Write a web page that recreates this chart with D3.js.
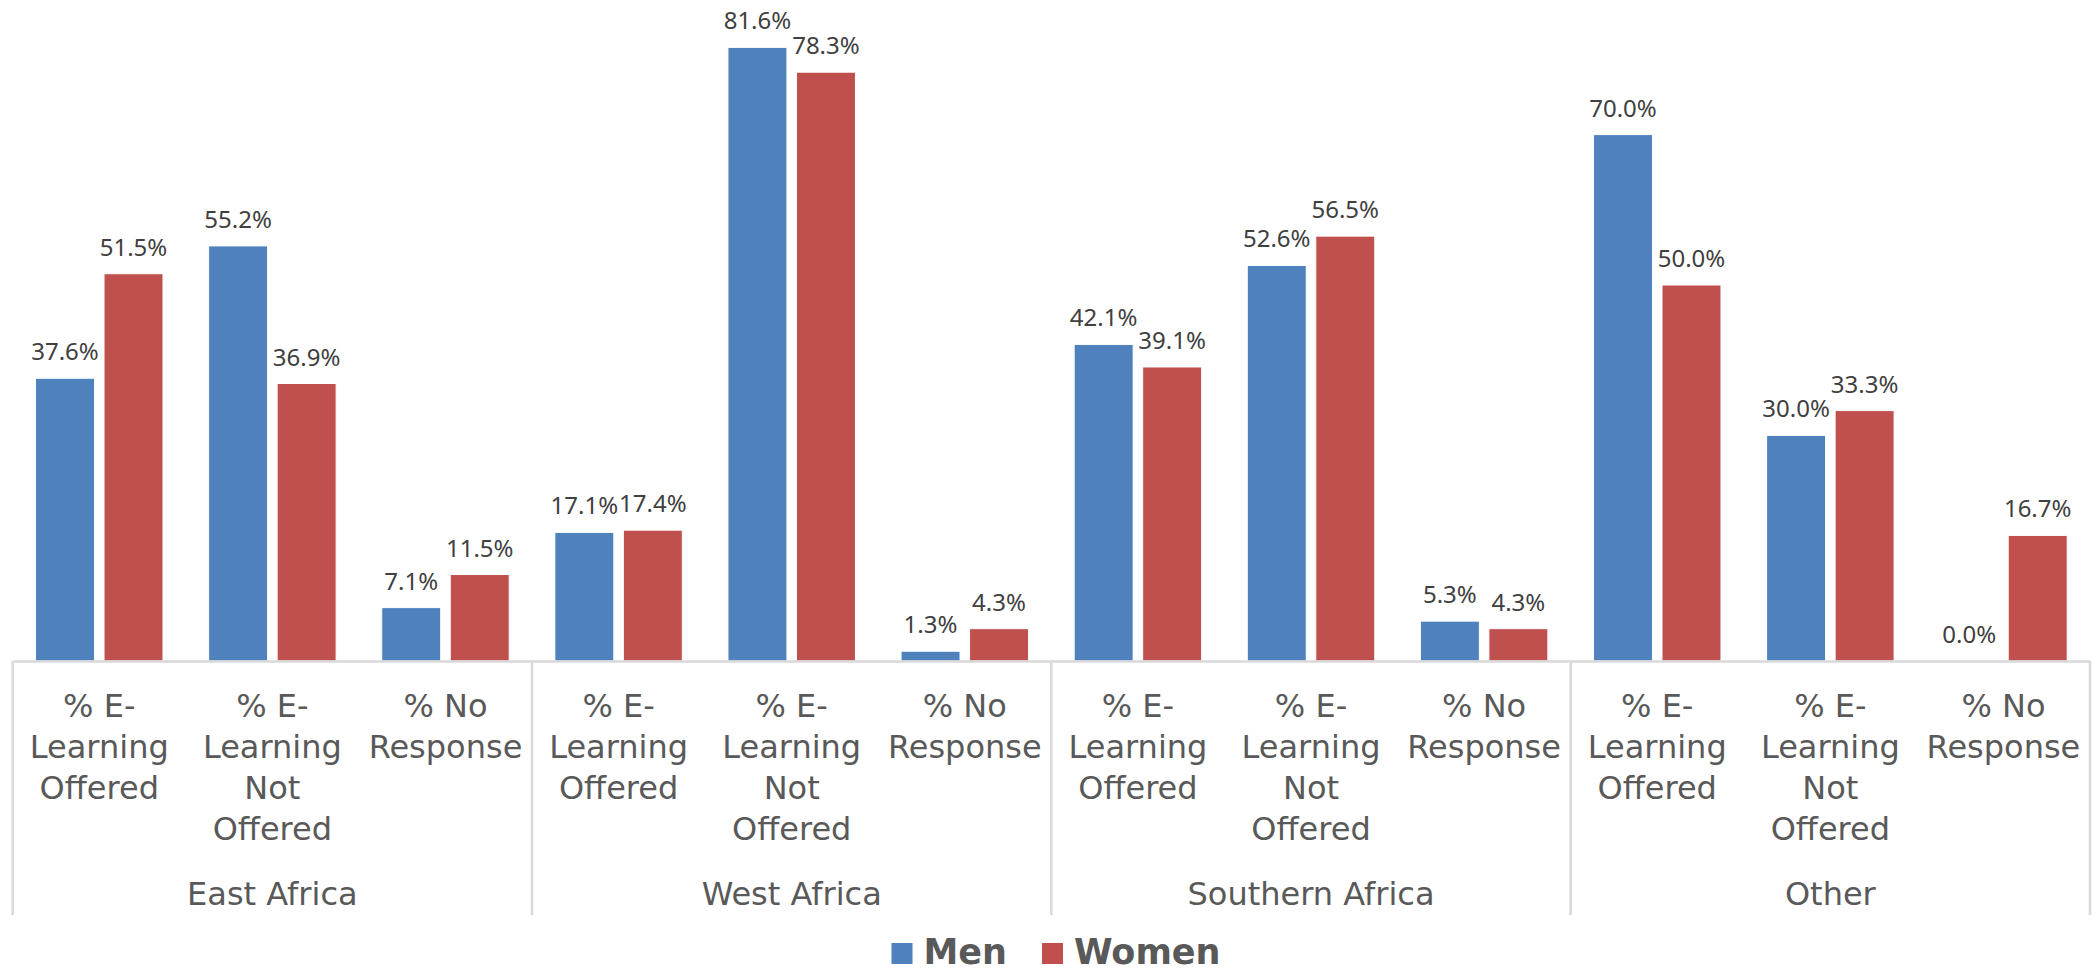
<!doctype html>
<meta charset="utf8">
<style>
  html, body { margin: 0; padding: 0; background: #fff; }
  svg { display: block; font-family: "DejaVu Sans", sans-serif; }
</style>
<body>
<div id="chart"></div>

<script src="https://d3js.org/d3.v7.min.js"></script>
<script>
(function() {

const WIDTH = 2097;
const HEIGHT = 974;

const regions = ["East Africa", "West Africa", "Southern Africa", "Other"];
const measures = ["% E-Learning Offered", "% E-Learning Not Offered", "% No Response"];
// how Excel wrapped each measure label
const measureLines = {
  "% E-Learning Offered": ["% E-", "Learning", "Offered"],
  "% E-Learning Not Offered": ["% E-", "Learning", "Not", "Offered"],
  "% No Response": ["% No", "Response"],
};
const series = ["Men", "Women"];
const menValues = [37.6, 55.2, 7.1, 17.1, 81.6, 1.3, 42.1, 52.6, 5.3, 70.0, 30.0, 0.0];
const womenValues = [51.5, 36.9, 11.5, 17.4, 78.3, 4.3, 39.1, 56.5, 4.3, 50.0, 33.3, 16.7];

const COLORS = { Men: "#4F81BD", Women: "#C0504D" };
const TEXT = "#595959";
const AXIS = "#D9D9D9";

const categories = [];
regions.forEach(r => measures.forEach(m => categories.push({ region: r, measure: m, key: `${r}|${m}` })));

const rows = categories.map((c, i) => ({
  ...c,
  values: { Men: menValues[i], Women: womenValues[i] },
}));

const plot = { left: 12.7, right: 2090, base: 661 };

const x = d3.scaleBand()
  .domain(categories.map(c => c.key))
  .range([plot.left, plot.right])
  .padding(0);

const xs = d3.scaleBand()
  .domain(series)
  .range([0, x.bandwidth()])
  .paddingInner(0.139)
  .paddingOuter(0.333);

const y = d3.scaleLinear()
  .domain([0, 100])
  .range([plot.base, plot.base - 752]);

const svg = d3.select("#chart").append("svg")
  .attr("width", WIDTH)
  .attr("height", HEIGHT);

// bars
const groups = svg.append("g")
  .selectAll("g")
  .data(rows)
  .join("g")
    .attr("transform", d => `translate(${x(d.key)},0)`);

groups.selectAll("rect")
  .data(d => series.map(s => ({ s, v: d.values[s] })))
  .join("rect")
    .attr("x", d => xs(d.s))
    .attr("y", d => y(d.v))
    .attr("width", xs.bandwidth())
    .attr("height", d => y(0) - y(d.v))
    .attr("fill", d => COLORS[d.s])
    .attr("stroke", "#fff")
    .attr("stroke-width", 1);

groups.selectAll("text")
  .data(d => series.map(s => ({ s, v: d.values[s] })))
  .join("text")
    .attr("x", d => xs(d.s) + xs.bandwidth() / 2)
    .attr("y", d => y(d.v) - 18)
    .attr("text-anchor", "middle")
    .attr("font-family", "Noto Sans, sans-serif")
    .attr("font-size", 24)
    .attr("fill", "#404040")
    .text(d => d3.format(".1f")(d.v) + "%");

// category axis
const axis = svg.append("g")
  .attr("transform", `translate(0,${plot.base})`)
  .call(d3.axisBottom(x).tickSize(0).tickSizeOuter(0).tickFormat(k => k.split("|")[1]));

axis.select(".domain")
  .attr("stroke", AXIS)
  .attr("stroke-width", 2.6);

axis.selectAll(".tick text")
  .attr("font-size", 32)
  .attr("font-family", "DejaVu Sans, sans-serif")
  .attr("fill", TEXT)
  .attr("dy", null)
  .attr("y", 0)
  .each(function(k) {
    const lines = measureLines[k.split("|")[1]];
    const t = d3.select(this).text(null);
    lines.forEach((line, i) => {
      t.append("tspan")
        .attr("x", 0)
        .attr("y", 56 + i * 41)
        .text(line);
    });
  });

// group separators
const keys = x.domain();
const edges = d3.range(0, categories.length + 1, measures.length).map(i =>
  i < keys.length ? x(keys[i]) : x(keys[keys.length - 1]) + x.bandwidth());

svg.append("g")
  .selectAll("line")
  .data(edges)
  .join("line")
    .attr("x1", d => d)
    .attr("x2", d => d)
    .attr("y1", plot.base)
    .attr("y2", 915)
    .attr("stroke", AXIS)
    .attr("stroke-width", 2.6);

svg.append("g")
  .selectAll("text")
  .data(regions)
  .join("text")
    .attr("x", (d, i) => (edges[i] + edges[i + 1]) / 2)
    .attr("y", 905)
    .attr("text-anchor", "middle")
    .attr("font-size", 32)
    .attr("fill", TEXT)
    .text(d => d);

// legend
const legend = svg.append("g");
const items = legend.selectAll("g")
  .data(series)
  .join("g");

items.append("rect")
  .attr("width", 21)
  .attr("height", 21)
  .attr("y", 943)
  .attr("fill", d => COLORS[d]);

items.append("text")
  .attr("x", 32)
  .attr("y", 964)
  .attr("font-size", 35)
  .attr("font-weight", "bold")
  .attr("fill", TEXT)
  .text(d => d);

let offset = 0;
items.each(function() {
  const w = this.getBBox().width;
  d3.select(this).attr("transform", `translate(${offset},0)`);
  offset += w + 35;
});
const total = offset - 35;
legend.attr("transform", `translate(${1056 - total / 2},0)`);

})();
</script>
